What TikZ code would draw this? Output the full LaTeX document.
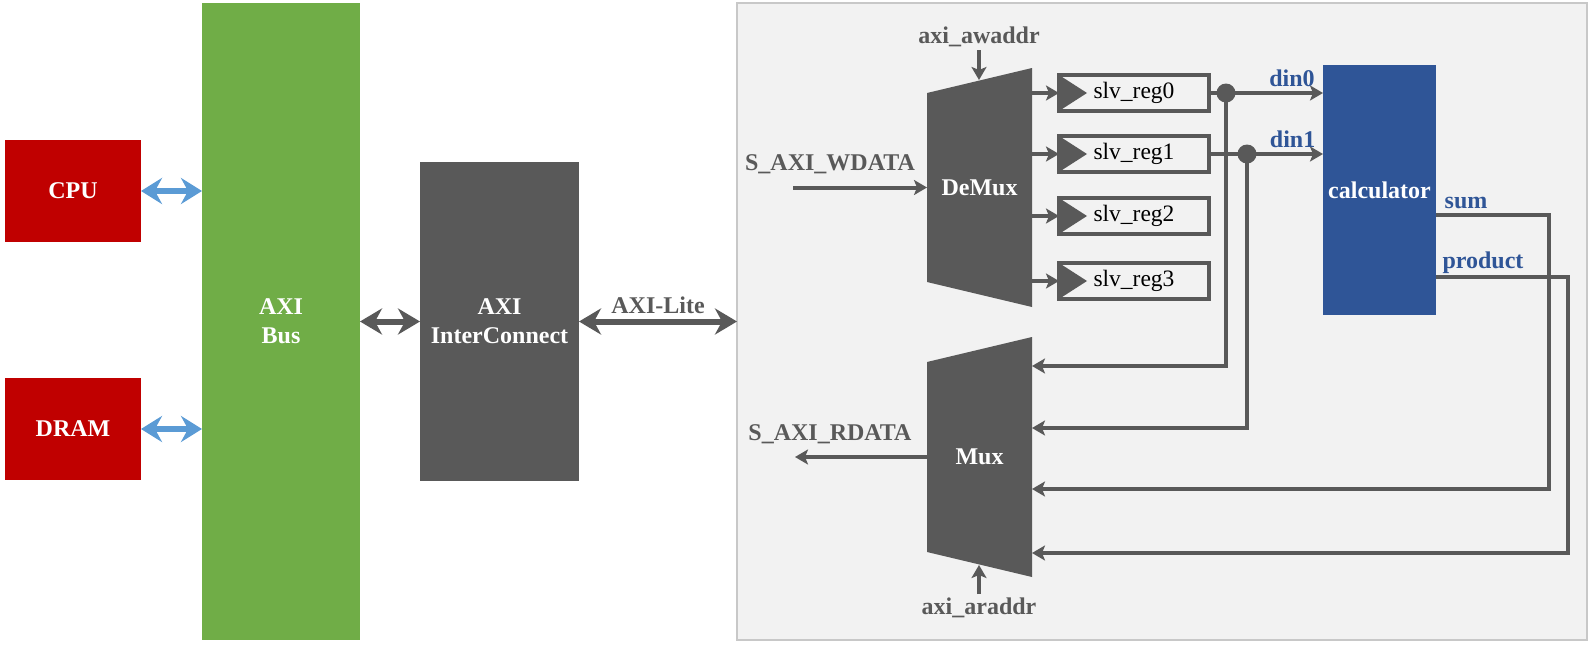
\documentclass[tikz,border=0pt]{standalone}
\usepackage{fontspec}
\setmainfont{Liberation Serif}
\usetikzlibrary{arrows.meta,calc}
\definecolor{dg}{HTML}{595959}
\definecolor{redbox}{HTML}{C00000}
\definecolor{grn}{HTML}{70AD47}
\definecolor{blu}{HTML}{2F5597}
\definecolor{lblu}{HTML}{5B9BD5}
\definecolor{pan}{HTML}{F2F2F2}
\definecolor{panb}{HTML}{C8C8C8}
\begin{document}
\begin{tikzpicture}[x=1pt,y=-1pt,
  blk/.style={draw=none, inner sep=0pt, outer sep=0pt},
  wtxt/.style={font=\fontsize{24}{29}\selectfont\bfseries, text=white, align=center},
  lbl/.style={font=\fontsize{24}{29}\selectfont\bfseries, text=dg, inner sep=0pt},
  blbl/.style={font=\fontsize{24}{29}\selectfont\bfseries, text=blu, inner sep=0pt},
  regbox/.style={draw=dg, line width=4pt, fill=pan, minimum width=150pt, minimum height=36pt,
    inner sep=0pt, outer sep=0pt, font=\fontsize{23.5}{28}\selectfont, text=black},
  trap/.style={blk, minimum width=105pt, minimum height=#1,
    font=\fontsize{24}{29}\selectfont\bfseries, text=white,
    path picture={\fill[dg] ([yshift=-25pt]path picture bounding box.north west)
      -- (path picture bounding box.north east) -- (path picture bounding box.south east)
      -- ([yshift=25pt]path picture bounding box.south west) -- cycle;}},
  wire/.style={draw=dg, line width=4pt},
  sig/.style={wire, -{Stealth[length=13pt,width=15pt,inset=3pt]}},
  fatgray/.style={draw=dg, line width=6pt,
    {Stealth[length=22pt,width=26pt,inset=7pt]}-{Stealth[length=22pt,width=26pt,inset=7pt]}},
  fatblue/.style={draw=lblu, line width=6pt,
    {Stealth[length=21pt,width=26pt,inset=7pt]}-{Stealth[length=21pt,width=26pt,inset=7pt]}},
  dot/.style={circle, fill=dg, minimum size=19pt, inner sep=0pt, outer sep=0pt}
]
\useasboundingbox (0,0) rectangle (1593,648);

% left part
\node[blk, fill=redbox, minimum width=136pt, minimum height=102pt, wtxt] (cpu) at (73,191) {CPU};
\node[blk, fill=redbox, minimum width=136pt, minimum height=102pt, wtxt] (dram) at (73,429) {DRAM};
\node[blk, fill=grn, minimum width=158pt, minimum height=637pt, wtxt] (bus) at (281,321.5) {AXI\\Bus};
\node[blk, fill=dg, minimum width=159pt, minimum height=319pt, wtxt] (ic) at (499.5,321.5) {AXI\\InterConnect};

% panel
\node[draw=panb, fill=pan, line width=1.5pt, minimum width=850pt, minimum height=637pt, inner sep=0pt, outer sep=0pt] (panel) at (1162,321.5) {};

\draw[fatblue] (cpu.east) -- (bus.west |- cpu.east);
\draw[fatblue] (dram.east) -- (bus.west |- dram.east);
\draw[fatgray] (bus.east |- ic.west) -- (ic.west);
\draw[fatgray] (ic.east) -- (panel.west) node[midway, above=5pt, lbl] (axilite) {AXI-Lite};

% demux / mux
\node[trap=239pt] (demux) at (979.5,187.5) {DeMux};
\node[trap=240pt] (mux) at (979.5,457) {Mux};

% registers
\foreach \i/\y in {0/93,1/154,2/216,3/281}{
  \node[regbox] (r\i) at (1134,\y) {slv\_reg\i};
  \fill[dg] (r\i.north west) -- ($(r\i.west)+(28,0)$) -- (r\i.south west) -- cycle;
  \draw[sig] (demux.east |- r\i.west) -- (r\i.west);
}

% calculator
\node[blk, fill=blu, minimum width=113pt, minimum height=250pt, wtxt] (calc) at (1379.5,190) {calculator};

% inputs / outputs labels
\node[lbl] (awaddr) at (979,37) {axi\_awaddr};
\coordinate (awin) at (979,50);
\draw[sig] (awin) -- (979,80);
\node[lbl] (wdata) at (830,164) {S\_AXI\_WDATA};
\coordinate (wdin) at (793,187.5);
\draw[sig] (wdin) -- (demux.west);
\node[lbl] (rdata) at (830,434) {S\_AXI\_RDATA};
\coordinate (rdout) at (795,457);
\draw[sig] (mux.west) -- (rdout);
\node[lbl] (araddr) at (979,608) {axi\_araddr};
\coordinate (arin) at (979,594);
\draw[sig] (arin) -- (979,565);

% junctions
\node[dot] (j0) at (1226,93) {};
\node[dot] (j1) at (1247,154) {};
\draw[wire] (r0.east) -- (j0.center);
\draw[wire] (r1.east) -- (j1.center);
\draw[sig] (j0.center) -- (calc.west |- j0) node[pos=0.68, above=4pt, blbl] (din0) {din0};
\draw[sig] (j1.center) -- (calc.west |- j1) node[pos=0.6, above=4pt, blbl] (din1) {din1};

% mux inputs
\coordinate (mi0) at ($(mux.east)+(0,-91)$);
\coordinate (mi1) at ($(mux.east)+(0,-29)$);
\coordinate (mi2) at ($(mux.east)+(0,32)$);
\coordinate (mi3) at ($(mux.east)+(0,96)$);
\draw[sig] (j0.center) |- (mi0);
\draw[sig] (j1.center) |- (mi1);

\coordinate (cs) at ($(calc.east)+(0,25)$);
\coordinate (cp) at ($(calc.east)+(0,87)$);
\draw[sig] (cs) -- ++(113,0) |- (mi2);
\draw[sig] (cp) -- ++(132,0) |- (mi3);
\node[blbl] (sumlbl) at (1466,203) {sum};
\node[blbl] (prodlbl) at (1483,263) {product};
\end{tikzpicture}
\end{document}
